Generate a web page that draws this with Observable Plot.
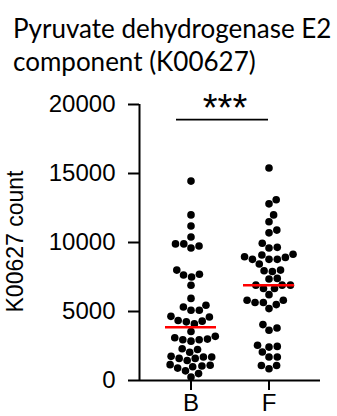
<!DOCTYPE html>
<html><head><meta charset="utf-8">
<script src="https://cdn.jsdelivr.net/npm/d3@7"></script>
<script src="https://cdn.jsdelivr.net/npm/@observablehq/plot@0.6"></script>
<style>
html,body{margin:0;padding:0;background:#fff;width:337px;height:416px;overflow:hidden;}
#title{position:absolute;left:13px;top:12px;font-family:Lato,"Open Sans",sans-serif;font-size:26px;line-height:33px;color:#000;white-space:nowrap;}
#chart{position:absolute;left:0;top:80px;}
</style></head><body>
<div id="title">Pyruvate dehydrogenase E2<br>component (K00627)</div>
<div id="chart"></div>
<script>
const groups = ["B", "F"];
const valuesB = [14450, 12000, 11200, 10400, 9900, 9900, 9750, 9600, 8000, 7700, 7650, 7500, 6900, 5950,
  5450, 5330, 5090, 5090, 4650, 4600, 4350, 4300, 4250, 4100,
  3550, 3200, 3100, 3000, 2950, 2950, 2850, 2300, 2250, 2050, 1750, 1700, 1700, 1600, 1600, 1450,
  1150, 1100, 1050, 1000, 900, 700, 500, 250];
const valuesF = [15400, 13100, 12800, 12000, 11500, 10900, 10700, 9950, 9650, 9600, 9150, 9090, 8970, 8920,
  8780, 8780, 8780, 8440, 8000, 7950, 7900, 7400, 7350, 6910, 6910, 6910, 6670, 6670, 6220,
  5820, 5820, 5650, 5650, 5500, 5210, 4050, 3800, 3640, 2550, 2470, 2420, 2060, 1700, 1700, 1090, 1090, 850];
const medians = [3850, 6900];
const yTicks = [0, 5000, 10000, 15000, 20000];
const yLabel = "K00627 count";
const sigFrom = "B", sigTo = "F", sigLabel = "***", sigValue = 18900;

const points = [
  ...valuesB.map(v => ({group: "B", value: v})),
  ...valuesF.map(v => ({group: "F", value: v}))
];
const medianRows = groups.map((g, i) => ({group: g, median: medians[i]}));
const sigRows = [{from: sigFrom, to: sigTo, label: sigLabel, y: sigValue}];
const yAxisRows = [{y1: yTicks[0], y2: yTicks[yTicks.length - 1]}];

// beeswarm layout computed from the library's scales
function swarm(options, gap) {
  return Plot.initializer(options, (data, facets, channels, scales) => {
    const G = channels.x.value, V = channels.y.value;
    const n = G.length;
    const X = new Float64Array(n), Y = new Float64Array(n);
    for (let i = 0; i < n; i++) Y[i] = scales.y(V[i]);
    for (const g of groups) {
      const idx = d3.range(n).filter(i => G[i] === g).sort((a, b) => Y[b] - Y[a]);
      const placed = [];
      for (const i of idx) {
        const cands = [0];
        for (const j of placed) {
          const dy = Y[i] - Y[j];
          if (Math.abs(dy) < gap) {
            const dx = Math.sqrt(gap * gap - dy * dy);
            cands.push(X[j] + dx, X[j] - dx);
          }
        }
        cands.sort((a, b) => Math.abs(a) - Math.abs(b));
        let best = 0;
        for (const c of cands) {
          if (placed.every(j => (X[j] - c) ** 2 + (Y[j] - Y[i]) ** 2 >= gap * gap - 1e-6)) { best = c; break; }
        }
        X[i] = best;
        placed.push(i);
      }
      const cx = scales.x(g);
      for (const i of idx) X[i] += cx;
    }
    return {data, facets, channels: {x: {value: X}, y: {value: Y}}};
  });
}

// vertical axis line along the left edge of the frame (Plot adds the band offset itself)
const atFrameLeft = (options) => Plot.initializer(options, (data, facets, channels, scales, dims) => {
  const half = scales.x && scales.x.bandwidth ? scales.x.bandwidth() / 2 : 0;
  return {data, facets, channels: {x: {value: Float64Array.from(data, () => dims.marginLeft - half)}}};
});

const chart = Plot.plot({
  width: 337, height: 336,
  marginLeft: 139, marginRight: 17, marginTop: 24, marginBottom: 36,
  style: {fontFamily: "'Liberation Sans', Arial, sans-serif", color: "#000", background: "transparent"},
  x: {type: "band", domain: groups, paddingInner: 0.346, paddingOuter: 0.333},
  y: {domain: [0, 20000]},
  marks: [
    Plot.axisY({ticks: yTicks, tickSize: 11, tickPadding: 13, fontSize: 24, strokeWidth: 2, label: null, tickFormat: d => String(d)}),
    Plot.axisX({tickSize: 10, tickPadding: 3, fontSize: 24, strokeWidth: 2, label: null}),
    Plot.ruleY([0], {stroke: "#000", strokeWidth: 2}),
    Plot.ruleX(yAxisRows, atFrameLeft({y1: "y1", y2: "y2", stroke: "#000", strokeWidth: 2})),
    Plot.dot(points, swarm({x: "group", y: "value", r: 3.8, fill: "#000", stroke: null}, 8.3)),
    Plot.tickY(medianRows, {x: "group", y: "median", stroke: "#ff0000", strokeWidth: 2.5}),
    Plot.ruleY(sigRows, {x1: "from", x2: "to", y: "y", stroke: "#000", strokeWidth: 1.7, insetLeft: 11, insetRight: 26}),
    Plot.text(sigRows, {x: "from", y: "y", text: "label", dx: 34, dy: 1, fontSize: 38, lineAnchor: "bottom"}),
    Plot.text([yLabel], {frameAnchor: "left", textAnchor: "middle", rotate: -90, dx: -124, dy: -1, fontSize: 23})
  ]
});
document.getElementById("chart").appendChild(chart);
</script>
</body></html>
